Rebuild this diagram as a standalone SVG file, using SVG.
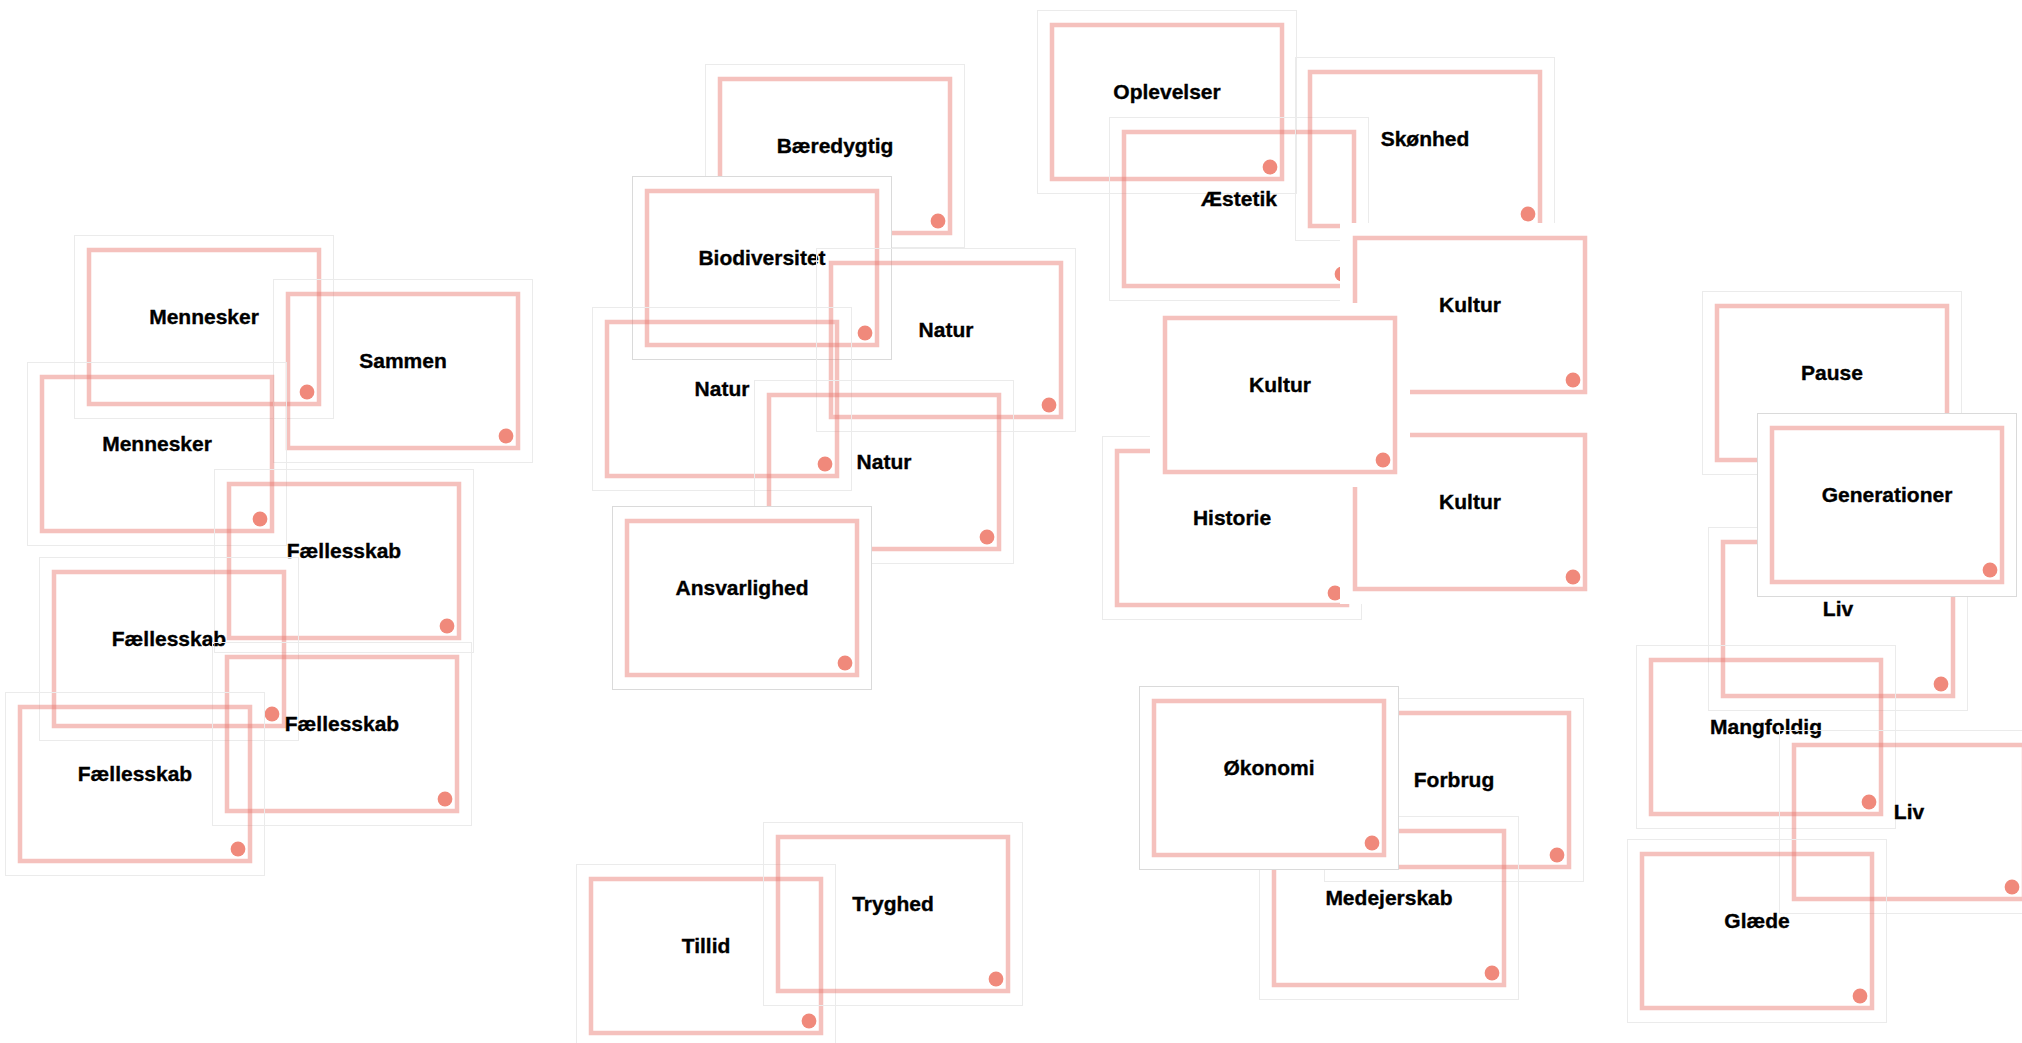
<svg xmlns="http://www.w3.org/2000/svg" width="2022" height="1043" viewBox="0 0 2022 1043">
<defs>
<style>
.bg{fill:none;stroke:#ebebeb;stroke-width:1}
.bg.top{fill:#ffffff;stroke:#dadada}
.bg.solid{fill:#ffffff;stroke:none}
.frame{fill:none;stroke:#e8766c;stroke-opacity:0.45;stroke-width:4.5}
.dot{fill:#f0897b}
.label{font-family:"Liberation Sans",Arial,sans-serif;font-weight:bold;font-size:21px;fill:#000;stroke:#000;stroke-width:0.35;text-anchor:middle}
</style>
<g id="card-tpl">
<rect class="frame" x="15" y="15" width="230" height="154"/>
<circle class="dot" cx="233" cy="157" r="7.4"/>
</g>
</defs>
<rect width="2022" height="1043" fill="#ffffff"/>
<g id="connectors"/>

<g id="mennesker-1" transform="translate(74,235)"><rect class="bg" x="0.5" y="0.5" width="259" height="183"/><use href="#card-tpl"/><text class="label" x="130" y="89">Mennesker</text></g>
<g id="sammen" transform="translate(273,279)"><rect class="bg" x="0.5" y="0.5" width="259" height="183"/><use href="#card-tpl"/><text class="label" x="130" y="89">Sammen</text></g>
<g id="mennesker-2" transform="translate(27,362)"><rect class="bg" x="0.5" y="0.5" width="259" height="183"/><use href="#card-tpl"/><text class="label" x="130" y="89">Mennesker</text></g>
<g id="faellesskab-1" transform="translate(214,469)"><rect class="bg" x="0.5" y="0.5" width="259" height="183"/><use href="#card-tpl"/><text class="label" x="130" y="89">Fællesskab</text></g>
<g id="faellesskab-2" transform="translate(39,557)"><rect class="bg" x="0.5" y="0.5" width="259" height="183"/><use href="#card-tpl"/><text class="label" x="130" y="89">Fællesskab</text></g>
<g id="faellesskab-3" transform="translate(212,642)"><rect class="bg" x="0.5" y="0.5" width="259" height="183"/><use href="#card-tpl"/><text class="label" x="130" y="89">Fællesskab</text></g>
<g id="faellesskab-4" transform="translate(5,692)"><rect class="bg" x="0.5" y="0.5" width="259" height="183"/><use href="#card-tpl"/><text class="label" x="130" y="89">Fællesskab</text></g>

<g id="baeredygtig" transform="translate(705,64)"><rect class="bg" x="0.5" y="0.5" width="259" height="183"/><use href="#card-tpl"/><text class="label" x="130" y="89">Bæredygtig</text></g>
<g id="biodiversitet" transform="translate(632,176)"><rect class="bg top" x="0.5" y="0.5" width="259" height="183"/><use href="#card-tpl"/><text class="label" x="130" y="89">Biodiversitet</text></g>
<g id="natur-1" transform="translate(816,248)"><rect class="bg" x="0.5" y="0.5" width="259" height="183"/><use href="#card-tpl"/><text class="label" x="130" y="89">Natur</text></g>
<g id="natur-2" transform="translate(592,307)"><rect class="bg" x="0.5" y="0.5" width="259" height="183"/><use href="#card-tpl"/><text class="label" x="130" y="89">Natur</text></g>
<g id="natur-3" transform="translate(754,380)"><rect class="bg" x="0.5" y="0.5" width="259" height="183"/><use href="#card-tpl"/><text class="label" x="130" y="89">Natur</text></g>
<g id="ansvarlighed" transform="translate(612,506)"><rect class="bg top" x="0.5" y="0.5" width="259" height="183"/><use href="#card-tpl"/><text class="label" x="130" y="89">Ansvarlighed</text></g>
<g id="tillid" transform="translate(576,864)"><rect class="bg" x="0.5" y="0.5" width="259" height="183"/><use href="#card-tpl"/><text class="label" x="130" y="89">Tillid</text></g>
<g id="tryghed" transform="translate(763,822)"><rect class="bg" x="0.5" y="0.5" width="259" height="183"/><use href="#card-tpl"/><text class="label" x="130" y="89">Tryghed</text></g>

<g id="oplevelser" transform="translate(1037,10)"><rect class="bg" x="0.5" y="0.5" width="259" height="183"/><use href="#card-tpl"/><text class="label" x="130" y="89">Oplevelser</text></g>
<g id="aestetik" transform="translate(1109,117)"><rect class="bg" x="0.5" y="0.5" width="259" height="183"/><use href="#card-tpl"/><text class="label" x="130" y="89">Æstetik</text></g>
<g id="skoenhed" transform="translate(1295,57)"><rect class="bg" x="0.5" y="0.5" width="259" height="183"/><use href="#card-tpl"/><text class="label" x="130" y="89">Skønhed</text></g>
<g id="historie" transform="translate(1102,436)"><rect class="bg" x="0.5" y="0.5" width="259" height="183"/><use href="#card-tpl"/><text class="label" x="130" y="89">Historie</text></g>
<g id="kultur-1" transform="translate(1340,223)"><rect class="bg solid" x="0" y="0" width="260" height="184"/><use href="#card-tpl"/><text class="label" x="130" y="89">Kultur</text></g>
<g id="kultur-2" transform="translate(1340,420)"><rect class="bg solid" x="0" y="0" width="260" height="184"/><use href="#card-tpl"/><text class="label" x="130" y="89">Kultur</text></g>
<g id="kultur-3" transform="translate(1150,303)"><rect class="bg solid" x="0" y="0" width="260" height="184"/><use href="#card-tpl"/><text class="label" x="130" y="89">Kultur</text></g>

<g id="forbrug" transform="translate(1324,698)"><rect class="bg" x="0.5" y="0.5" width="259" height="183"/><use href="#card-tpl"/><text class="label" x="130" y="89">Forbrug</text></g>
<g id="medejerskab" transform="translate(1259,816)"><rect class="bg" x="0.5" y="0.5" width="259" height="183"/><use href="#card-tpl"/><text class="label" x="130" y="89">Medejerskab</text></g>
<g id="oekonomi" transform="translate(1139,686)"><rect class="bg top" x="0.5" y="0.5" width="259" height="183"/><use href="#card-tpl"/><text class="label" x="130" y="89">Økonomi</text></g>

<g id="pause" transform="translate(1702,291)"><rect class="bg" x="0.5" y="0.5" width="259" height="183"/><use href="#card-tpl"/><text class="label" x="130" y="89">Pause</text></g>
<g id="liv-1" transform="translate(1708,527)"><rect class="bg" x="0.5" y="0.5" width="259" height="183"/><use href="#card-tpl"/><text class="label" x="130" y="89">Liv</text></g>
<g id="generationer" transform="translate(1757,413)"><rect class="bg top" x="0.5" y="0.5" width="259" height="183"/><use href="#card-tpl"/><text class="label" x="130" y="89">Generationer</text></g>
<g id="mangfoldig" transform="translate(1636,645)"><rect class="bg" x="0.5" y="0.5" width="259" height="183"/><use href="#card-tpl"/><text class="label" x="130" y="89">Mangfoldig</text></g>
<g id="liv-2" transform="translate(1779,730)"><rect class="bg" x="0.5" y="0.5" width="259" height="183"/><use href="#card-tpl"/><text class="label" x="130" y="89">Liv</text></g>
<g id="glaede" transform="translate(1627,839)"><rect class="bg" x="0.5" y="0.5" width="259" height="183"/><use href="#card-tpl"/><text class="label" x="130" y="89">Glæde</text></g>
</svg>
